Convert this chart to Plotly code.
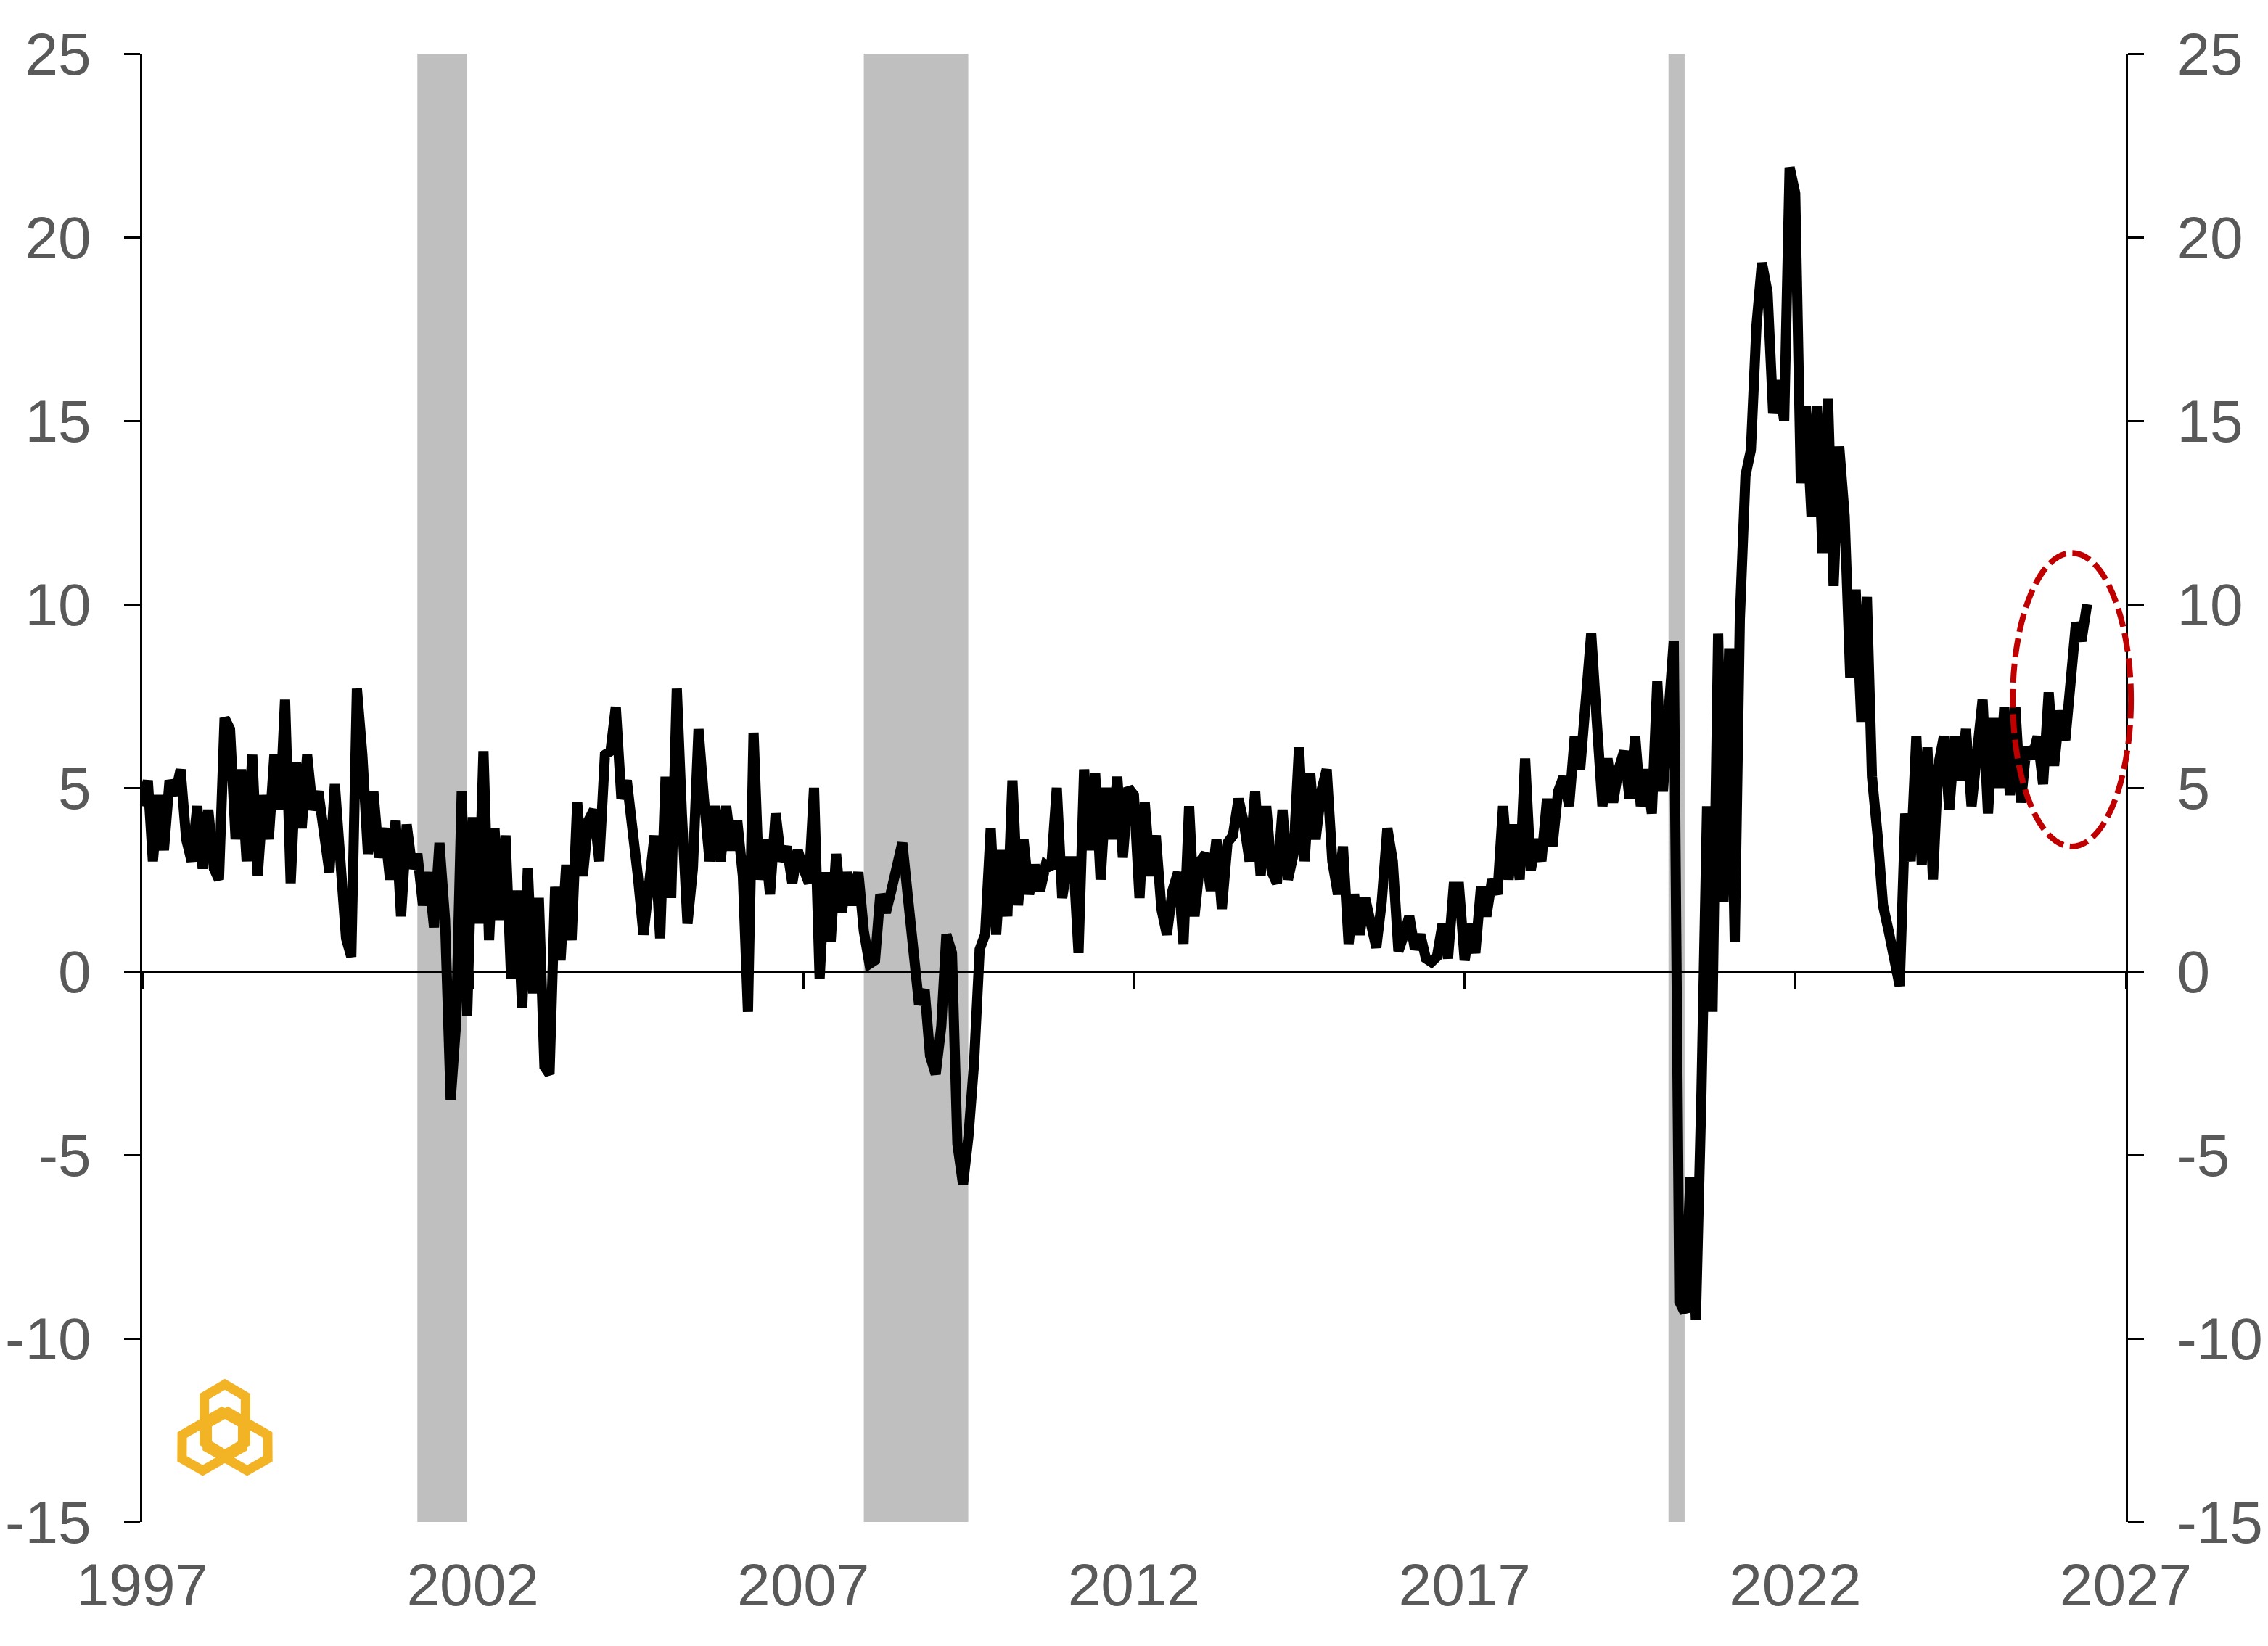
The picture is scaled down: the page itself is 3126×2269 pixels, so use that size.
import math
import pandas as pd
import plotly.graph_objects as go

# monthly readings, Jan 1997 onwards
vals_1997_2001 = [
    4.5, 5.2, 3.0, 4.8, 3.3, 5.2, 4.8, 5.5, 3.6, 3.0, 4.5, 2.8,
    4.4, 2.8, 2.5, 6.9, 6.6, 3.6, 5.5, 3.0, 5.9, 2.6, 4.8, 3.6,
    5.9, 4.4, 7.4, 2.4, 5.7, 3.9, 5.9, 4.4, 4.9, 3.9, 2.7, 5.1,
    3.3, 0.9, 0.4, 7.7, 5.9, 3.2, 4.9, 3.1, 3.9, 2.5, 4.1, 1.5,
    4.0, 2.8, 3.2, 1.8, 2.7, 1.2, 3.5, 1.4, -3.5, -1.4, 4.9, -1.2,
]
vals_2002_2006 = [
    4.2, 1.3, 6.0, 0.85, 3.9, 1.4, 3.7, -0.2, 2.2, -1.0, 2.8, -0.6,
    2.0, -2.6, -2.8, 2.3, 0.3, 2.9, 0.85, 4.6, 2.6, 4.1, 4.4, 3.0,
    5.9, 6.0, 7.2, 4.7, 5.2, 4.1, 2.6, 1.0, 2.3, 3.7, 0.9, 5.3,
    2.0, 7.7, 4.3, 1.3, 2.8, 6.6, 4.7, 3.0, 4.5, 3.0, 4.5, 3.3,
    4.1, 2.6, -1.1, 6.5, 2.5, 3.6, 2.1, 4.3, 3.0, 3.4, 2.4, 3.3,
]
vals_2007_2011 = [
    2.8, 2.4, 5.0, -0.2, 2.7, 0.8, 3.2, 1.6, 2.7, 1.8, 2.7, 1.1,
    0.2, 0.3, 2.1, 1.6, 2.2, 2.9, 3.5, 2.0, 0.7, -0.9, -0.5, -2.3,
    -2.8, -1.5, 1.0, 0.5, -4.7, -5.8, -4.5, -2.5, 0.6, 1.0, 3.9, 1.0,
    3.3, 1.5, 5.2, 1.8, 3.6, 2.1, 2.9, 2.2, 2.9, 2.8, 5.0, 2.0,
    3.0, 3.0, 0.5, 5.5, 3.3, 5.4, 2.5, 5.0, 3.6, 5.3, 3.1, 5.0,
]
vals_2012_2016 = [
    4.8, 2.0, 4.6, 2.6, 3.7, 1.7, 1.0, 2.2, 2.7, 0.75, 4.5, 1.5,
    3.0, 3.2, 2.2, 3.6, 1.7, 3.5, 3.7, 4.7, 4.0, 3.0, 4.9, 2.6,
    4.5, 2.7, 2.4, 4.4, 2.5, 3.2, 6.1, 3.0, 5.4, 3.6, 4.9, 5.5,
    3.0, 2.1, 3.4, 0.75, 2.1, 1.0, 2.0, 1.2, 0.65, 1.9, 3.9, 3.0,
    0.55, 1.0, 1.5, 0.6, 1.0, 0.35, 0.25, 0.4, 1.3, 0.35, 2.3, 2.3,
]
vals_2017_2021 = [
    0.3, 1.3, 0.5, 2.3, 1.5, 2.5, 2.1, 4.5, 2.5, 4.0, 2.5, 5.8,
    2.75, 3.6, 3.0, 4.7, 3.4, 4.9, 5.3, 4.5, 6.4, 5.5, 7.9, 9.2,
    6.8, 4.5, 5.8, 4.6, 5.5, 6.0, 4.7, 6.4, 4.5, 5.5, 4.3, 7.9,
    4.9, 7.6, 9.0, -9.0, -9.3, -5.6, -9.5, -3.3, 4.5, -1.1, 9.2, 1.9,
    8.8, 0.8, 9.6, 13.5, 14.2, 17.6, 19.3, 18.5, 15.2, 16.1, 15.0, 21.9,
]
vals_2022_2026 = [
    21.2, 13.3, 15.4, 12.4, 15.4, 11.4, 15.6, 10.5, 14.3, 12.4, 8.0, 10.4,
    6.8, 10.2, 5.3, 3.7, 1.8, 1.1, 0.4, -0.4, 4.3, 3.0, 6.4, 2.9,
    6.1, 2.5, 5.6, 6.4, 4.4, 6.4, 5.2, 6.6, 4.5, 5.9, 7.4, 4.3,
    6.9, 5.0, 7.2, 4.8, 7.2, 4.6, 6.1, 5.8, 6.4, 5.1, 7.6, 5.6,
    7.1, 6.3, 7.6, 9.5, 9.0, 10.0,
]

rec_starts = ['2001-03-01', '2007-12-01', '2020-02-01']
rec_ends = ['2001-11-30', '2009-06-30', '2020-04-30']

year_ticks = ['1997', '2002', '2007', '2012', '2017', '2022', '2027']
y_ticks = [-15, -10, -5, 0, 5, 10, 15, 20, 25]

values = (vals_1997_2001 + vals_2002_2006 + vals_2007_2011
          + vals_2012_2016 + vals_2017_2021 + vals_2022_2026)
dates = pd.date_range('1997-01-01', periods=len(values), freq='MS')

W, H = 3126, 2269
# page body has an 8px margin, so pull the figure back by that much
L, R, T, B = 188, 204, 66, 179
pw, ph = W - L - R, H - T - B
px0, py1 = 196, 2098  # plot corner in the picture

grey = '#595959'
tfont = dict(family='Liberation Sans, Arial', size=82, color=grey)


def to_paper(px, py):
    return (px - px0) / pw, (py1 - py) / ph


# logo: three interlocked hexagon rings (pixel geometry)
def hex_path(cx, cy, ang):
    pts = [(48.3, 0), (31.7, 28.3), (-31.7, 28.3), (-48.3, 0), (-31.7, -28.3), (31.7, -28.3)]
    ca, sa = math.cos(ang), math.sin(ang)
    out = []
    for a, p in pts:
        x = cx + a * ca - p * sa
        y = cy + a * sa + p * ca
        out.append(to_paper(x, y))
    return 'M ' + ' L '.join(f'{x:.5f},{y:.5f}' for x, y in out) + ' Z'


shapes = []
for s, e in zip(rec_starts, rec_ends):
    shapes.append(dict(type='rect', xref='x', yref='paper', x0=s, x1=e, y0=0, y1=1,
                       fillcolor='#BFBFBF', line=dict(width=0), layer='between'))

lcx, lcy = 310, 1976.7
for k in range(3):
    th = -math.pi / 2 + k * 2 * math.pi / 3
    cx = lcx + 20 * math.cos(th)
    cy = lcy + 20 * math.sin(th)
    shapes.append(dict(type='path', xref='paper', yref='paper', path=hex_path(cx, cy, th),
                       line=dict(color='#F2B324', width=13), fillcolor='rgba(0,0,0,0)'))

# red dashed ellipse around the latest readings
shapes.append(dict(type='circle', xref='paper', yref='paper',
                   x0=0.943, x1=1.0026, y0=(3.4 + 15) / 40, y1=(11.4 + 15) / 40,
                   line=dict(color='#C00000', width=8, dash='26px,9px')))

fig = go.Figure()
fig.add_trace(go.Scatter(x=dates, y=values, mode='lines',
                         line=dict(color='black', width=14), hoverinfo='skip', showlegend=False))
fig.add_trace(go.Scatter(x=[dates[0]], y=[0], mode='lines', yaxis='y2', showlegend=False, hoverinfo='skip'))
fig.add_trace(go.Scatter(x=[dates[0]], y=[0], mode='lines', xaxis='x2', showlegend=False, hoverinfo='skip'))

xr = ['1997-01-01', '2027-01-01']
xtv = [f'{y}-01-01' for y in year_ticks]
yax = dict(range=[-15, 25], tickvals=y_ticks, ticktext=[str(v) for v in y_ticks],
           ticks='outside', ticklen=22, tickwidth=3, tickcolor='black',
           showline=True, linewidth=3, linecolor='black', showgrid=False,
           tickfont=tfont, ticklabelstandoff=29, automargin=False)

fig.update_layout(
    width=W, height=H, margin=dict(l=L, r=R, t=T, b=B, pad=0, autoexpand=False),
    plot_bgcolor='white', paper_bgcolor='white', showlegend=False,
    xaxis=dict(type='date', range=xr, tickvals=xtv, ticktext=year_ticks, ticks='',
               showline=False, showgrid=False, zeroline=False, tickfont=tfont,
               ticklabelstandoff=32, automargin=False),
    xaxis2=dict(type='date', range=xr, overlaying='x', anchor='free', position=0.375,
                tickvals=xtv, showticklabels=False, ticks='outside', ticklen=24, tickwidth=3,
                tickcolor='black', showline=False, showgrid=False, zeroline=False),
    yaxis=dict(**yax, zeroline=True, zerolinewidth=3, zerolinecolor='black'),
    yaxis2=dict(**yax, zeroline=False, overlaying='y', side='right'),
    shapes=shapes,
)

fig.write_html('out.html')
